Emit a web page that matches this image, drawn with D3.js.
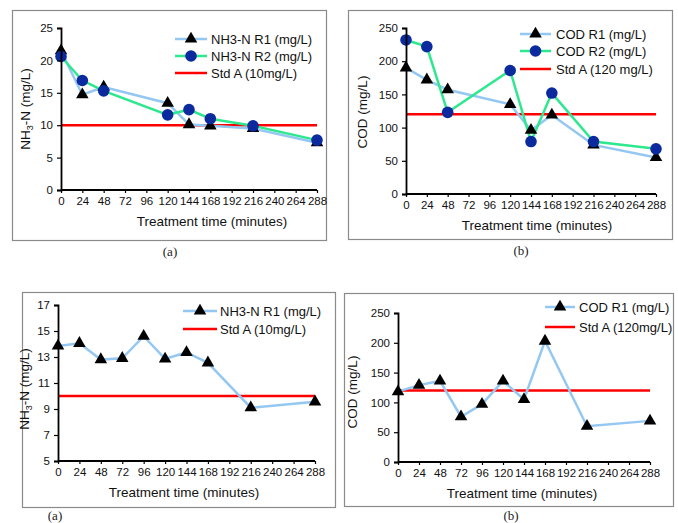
<!DOCTYPE html>
<html>
<head>
<meta charset="utf-8">
<script src="https://cdn.jsdelivr.net/npm/d3@7"></script>
<style>
  body { margin: 0; background: #fff; }
  svg text { font-family: "Liberation Sans", Arial, sans-serif; }
  svg text.cap { font-family: "Liberation Serif", "Times New Roman", serif; }
</style>
</head>
<body>
<div id="chart"></div>
<script>
  "use strict";

  // treatment times (minutes)
  var timeTop = [0, 24, 48, 120, 144, 168, 216, 288];
  var timeBottom = [0, 24, 48, 72, 96, 120, 144, 168, 216, 288];
  var xTickValues = [0, 24, 48, 72, 96, 120, 144, 168, 192, 216, 240, 264, 288];

  // top row
  var nh3R1 = [21.5, 14.7, 15.9, 13.4, 10.1, 9.9, 9.5, 7.3];
  var nh3R2 = [20.6, 16.9, 15.3, 11.6, 12.4, 11.0, 9.9, 7.7];
  var codR1 = [190, 172, 157, 135, 96, 119, 74, 55];
  var codR2 = [232, 222, 123, 186, 79, 152, 79, 68];

  // bottom row
  var nh3Single = [13.85, 14.05, 12.8, 12.9, 14.6, 12.85, 13.35, 12.55, 9.1, 9.55];
  var codSingle = [118, 129, 136, 76, 97, 136, 105, 203, 60, 69];

  var nh3Ticks = [0, 5, 10, 15, 20, 25];
  var codTicks = [0, 50, 100, 150, 200, 250];
  var nh3TicksB = [5, 7, 9, 11, 13, 15, 17];

  var BLUE = "#94c8f2", GREEN = "#2ee88f", RED = "#ff0000", NAVY = "#0b2a9e";
  var TICK_FS = 11.5, TITLE_FS = 13.5, LEG_FS = 13;

  var W = 678, H = 523;
  var svg = d3.select("#chart").append("svg")
    .attr("width", W).attr("height", H);
  svg.append("rect").attr("width", W).attr("height", H).attr("fill", "#fff");

  var panels = [
    {
      box: [12, 10, 326, 240], plot: [61, 317, 28, 190], yDomain: [0, 25], yTicks: nh3Ticks,
      yTitle: "nh3", yTitleX: 30, yTitleY: 109, xTitleX: 212, caption: "(a)", cap: [170, 256],
      series: [
        {x: timeTop, y: nh3R1, color: BLUE, marker: "tri", name: "NH3-N R1 (mg/L)"},
        {x: timeTop, y: nh3R2, color: GREEN, marker: "dot", name: "NH3-N R2 (mg/L)"}
      ],
      std: 10, stdName: "Std A (10mg/L)",
      legend: {x0: 175, x1: 207, tx: 211, ys: [39, 56, 73]}
    },
    {
      box: [348, 10, 672, 239], plot: [406, 656, 28, 194], yDomain: [0, 250], yTicks: codTicks,
      yTitle: "COD (mg/L)", yTitleX: 367, yTitleY: 112, xTitleX: 537, caption: "(b)", cap: [521, 255],
      series: [
        {x: timeTop, y: codR1, color: BLUE, marker: "tri", name: "COD R1 (mg/L)"},
        {x: timeTop, y: codR2, color: GREEN, marker: "dot", name: "COD R2 (mg/L)"}
      ],
      std: 120, stdName: "Std A (120 mg/L)",
      legend: {x0: 520, x1: 551, tx: 556, ys: [34, 51, 69]}
    },
    {
      box: [22, 292, 335, 507], plot: [58, 315, 305, 461], yDomain: [5, 17], yTicks: nh3TicksB,
      yTitle: "nh3", yTitleX: 29, yTitleY: 389, xTitleX: 184, caption: "(a)", cap: [55, 520],
      series: [
        {x: timeBottom, y: nh3Single, color: BLUE, marker: "tri", name: "NH3-N R1 (mg/L)"}
      ],
      std: 10, stdName: "Std A (10mg/L)",
      legend: {x0: 183, x1: 217, tx: 220, ys: [311, 329]}
    },
    {
      box: [344, 293, 673, 506], plot: [398, 650, 313, 462], yDomain: [0, 250], yTicks: codTicks,
      yTitle: "COD (mg/L)", yTitleX: 357, yTitleY: 392, xTitleX: 522, caption: "(b)", cap: [511, 520],
      series: [
        {x: timeBottom, y: codSingle, color: BLUE, marker: "tri", name: "COD R1 (mg/L)"}
      ],
      std: 120, stdName: "Std A (120mg/L)",
      legend: {x0: 545, x1: 575, tx: 579, ys: [307, 327]}
    }
  ];

  function drawMarker(g, kind, cx, cy) {
    if (kind === "tri") {
      g.append("path")
        .attr("d", d3.symbol(d3.symbolTriangle, 68)())
        .attr("transform", `translate(${cx},${cy})`)
        .attr("fill", "#000");
    } else {
      g.append("circle").attr("cx", cx).attr("cy", cy).attr("r", 5.8).attr("fill", NAVY);
    }
  }

  panels.forEach(function(p) {
    var g = svg.append("g");
    var b = p.box;
    g.append("rect")
      .attr("x", b[0] + 0.5).attr("y", b[1] + 0.5)
      .attr("width", b[2] - b[0]).attr("height", b[3] - b[1])
      .attr("fill", "none").attr("stroke", "#8a8a8a").attr("stroke-width", 1.2);

    var x = d3.scaleLinear().domain([0, 288]).range([p.plot[0], p.plot[1]]);
    var y = d3.scaleLinear().domain(p.yDomain).range([p.plot[3], p.plot[2]]);

    // std line
    g.append("line")
      .attr("x1", x(0)).attr("x2", x(288))
      .attr("y1", y(p.std)).attr("y2", y(p.std))
      .attr("stroke", RED).attr("stroke-width", 2.5);

    // series
    p.series.forEach(function(s) {
      var pts = s.x.map(function(t, i) { return [t, s.y[i]]; });
      g.append("path")
        .datum(pts)
        .attr("d", d3.line().x(function(d) { return x(d[0]); }).y(function(d) { return y(d[1]); }))
        .attr("fill", "none").attr("stroke", s.color).attr("stroke-width", 2.5);
    });
    p.series.forEach(function(s) {
      s.x.forEach(function(t, i) { drawMarker(g, s.marker, x(t), y(s.y[i])); });
    });

    // axes
    var xAxis = g.append("g")
      .attr("transform", `translate(0,${p.plot[3]})`)
      .call(d3.axisBottom(x).tickValues(xTickValues).tickSize(3).tickPadding(4));
    var yAxis = g.append("g")
      .attr("transform", `translate(${p.plot[0]},0)`)
      .call(d3.axisLeft(y).tickValues(p.yTicks).tickSize(4).tickPadding(4));
    [xAxis, yAxis].forEach(function(a) {
      a.select(".domain").attr("stroke", "#000").attr("stroke-width", 1.8);
      a.selectAll(".tick line").attr("stroke", "#000").attr("stroke-width", 1.2);
      a.selectAll(".tick text").attr("fill", "#111").attr("font-size", TICK_FS);
    });
    xAxis.select(".domain").attr("d", `M${p.plot[0]},0H${p.plot[1]}`);

    // axis titles
    g.append("text")
      .attr("x", p.xTitleX).attr("y", p.plot[3] + 36)
      .attr("text-anchor", "middle").attr("font-size", TITLE_FS).attr("fill", "#111")
      .text("Treatment time (minutes)");

    var yt = g.append("text")
      .attr("transform", `translate(${p.yTitleX},${p.yTitleY}) rotate(-90)`)
      .attr("text-anchor", "middle").attr("font-size", TITLE_FS).attr("fill", "#111");
    if (p.yTitle === "nh3") {
      yt.append("tspan").text("NH");
      yt.append("tspan").text("3").attr("font-size", 9).attr("dy", 3);
      yt.append("tspan").text("-N (mg/L)").attr("dy", -3);
    } else {
      yt.text(p.yTitle);
    }

    // legend
    var L = p.legend;
    p.series.forEach(function(s, i) {
      g.append("line").attr("x1", L.x0).attr("x2", L.x1).attr("y1", L.ys[i]).attr("y2", L.ys[i])
        .attr("stroke", s.color).attr("stroke-width", 2.5);
      drawMarker(g, s.marker, (L.x0 + L.x1) / 2, L.ys[i]);
      g.append("text").attr("x", L.tx).attr("y", L.ys[i]).attr("dy", "0.35em")
        .attr("font-size", LEG_FS).attr("fill", "#111").text(s.name);
    });
    var ly = L.ys[p.series.length];
    g.append("line").attr("x1", L.x0).attr("x2", L.x1).attr("y1", ly).attr("y2", ly)
      .attr("stroke", RED).attr("stroke-width", 2.5);
    g.append("text").attr("x", L.tx).attr("y", ly).attr("dy", "0.35em")
      .attr("font-size", LEG_FS).attr("fill", "#111").text(p.stdName);

    // caption
    svg.append("text").attr("class", "cap").attr("x", p.cap[0]).attr("y", p.cap[1])
      .attr("text-anchor", "middle").attr("font-size", 13).attr("fill", "#222")
      .text(p.caption);
  });
</script>
</body>
</html>
